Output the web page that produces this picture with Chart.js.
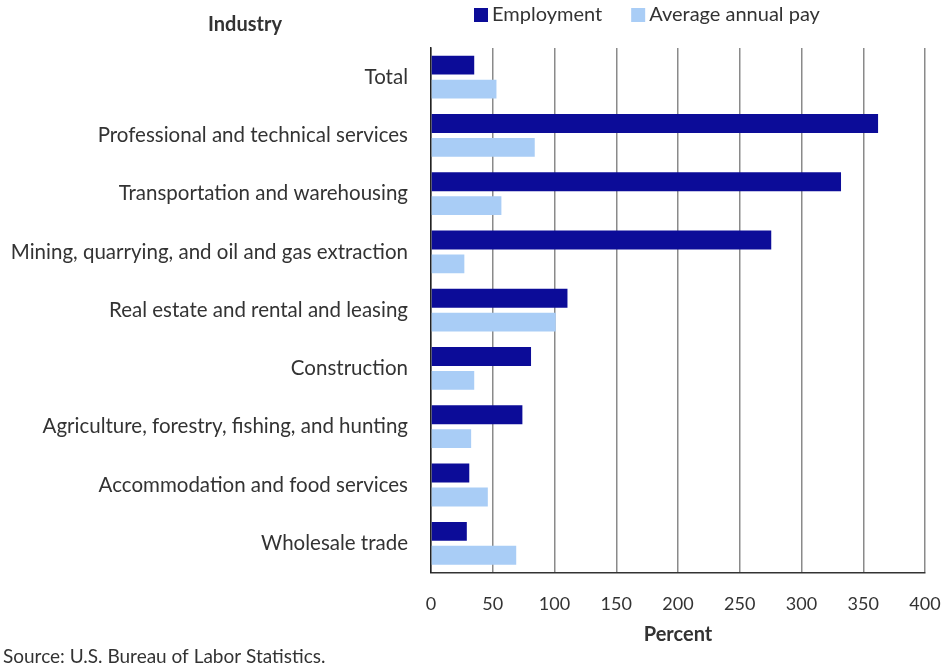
<!DOCTYPE html>
<html>
<head>
<meta charset="utf-8">
<script src="https://cdn.jsdelivr.net/npm/chart.js@4"></script>
<style>
  html, body { margin: 0; padding: 0; background: #fff; }
  #wrap { width: 943px; height: 666px; }
</style>
</head>
<body>
<div id="wrap"><canvas id="chart"></canvas></div>
<script>
// Industries, top to bottom as in the chart.
const industries = [
  "Total",
  "Professional and technical services",
  "Transportation and warehousing",
  "Mining, quarrying, and oil and gas extraction",
  "Real estate and rental and leasing",
  "Construction",
  "Agriculture, forestry, fishing, and hunting",
  "Accommodation and food services",
  "Wholesale trade"
];

// Percent change.
const employment = [35, 362, 332, 275.5, 110.5, 81, 74, 31, 29];
const averagePay = [53, 84, 57, 27, 101, 35, 32.5, 46, 69];

const xTicks = [0, 50, 100, 150, 200, 250, 300, 350, 400];

const FONT = "Lato, 'Open Sans', sans-serif";
const TEXT = "#333";

// "Industry" header and the legend row above the plot.
const headerPlugin = {
  id: "header",
  afterDraw(chart) {
    const c = chart.ctx;
    c.save();
    c.fillStyle = TEXT;
    c.textBaseline = "middle";
    c.font = "bold 20px " + FONT;
    c.textAlign = "center";
    c.fillText("Industry", 245, 25);

    c.font = "20px " + FONT;
    c.textAlign = "left";
    let x = 474;
    chart.data.datasets.forEach((ds) => {
      c.fillStyle = ds.backgroundColor;
      c.fillRect(x, 8, 14, 14);
      c.fillStyle = TEXT;
      c.fillText(ds.label, x + 18, 15);
      x += 18 + c.measureText(ds.label).width + 29;
    });
    c.restore();
  }
};

new Chart(document.getElementById("chart"), {
  type: "bar",
  data: {
    labels: industries,
    datasets: [
      {
        label: "Employment",
        data: employment,
        backgroundColor: "#0c0c98",
        categoryPercentage: 0.82,
        barPercentage: 0.79
      },
      {
        label: "Average annual pay",
        data: averagePay,
        backgroundColor: "#a9cdf6",
        categoryPercentage: 0.82,
        barPercentage: 0.79
      }
    ]
  },
  options: {
    indexAxis: "y",
    responsive: true,
    maintainAspectRatio: false,
    animation: false,
    layout: { padding: { left: 3, right: 0, top: 48, bottom: 0 } },
    plugins: {
      legend: { display: false },
      tooltip: { enabled: false },
      title: {
        display: true,
        text: "Source: U.S. Bureau of Labor Statistics.",
        position: "bottom",
        align: "start",
        color: TEXT,
        font: { family: FONT, size: 19, weight: "normal", lineHeight: 1 },
        padding: { top: 0, bottom: 0 }
      }
    },
    scales: {
      x: {
        min: 0,
        max: 400,
        afterBuildTicks(scale) {
          scale.ticks = xTicks.map((v) => ({ value: v }));
        },
        // room for half of the "400" label only
        afterFit(scale) {
          scale.paddingLeft = 0;
          scale.paddingRight = 18;
        },
        grid: {
          color: "#8a8a8a",
          lineWidth: 1.5,
          drawTicks: true,
          tickLength: 13,
          tickColor: "rgba(0,0,0,0)"
        },
        border: { color: "#333", width: 1.5 },
        ticks: {
          color: TEXT,
          font: { family: FONT, size: 18 },
          padding: 8
        },
        title: {
          display: true,
          text: "Percent",
          color: TEXT,
          font: { family: FONT, size: 20, weight: "bold" },
          padding: { top: 0, bottom: 0 }
        }
      },
      y: {
        afterFit(scale) {
          scale.width = 428;
        },
        grid: { display: false, drawTicks: false },
        border: { color: "#222", width: 1.5 },
        ticks: {
          color: TEXT,
          font: { family: FONT, size: 20.5 },
          padding: 23
        }
      }
    }
  },
  plugins: [headerPlugin]
});
</script>
</body>
</html>
